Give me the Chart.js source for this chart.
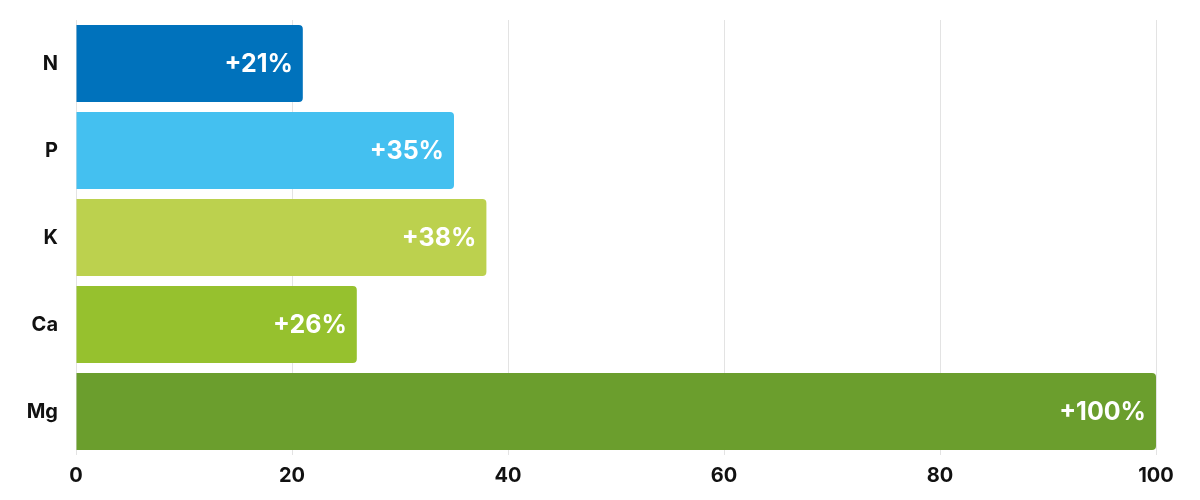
<!DOCTYPE html>
<html>
<head>
<meta charset="utf-8">
<script src="https://cdn.jsdelivr.net/npm/chart.js@4"></script>
<style>
  html, body { margin: 0; padding: 0; background: #fff; }
  #wrap { width: 1200px; height: 500px; }
</style>
</head>
<body>
<div id="wrap"><canvas id="chart" width="1200" height="500"></canvas></div>
<script>
const nutrients = ['N', 'P', 'K', 'Ca', 'Mg'];
const increase = [21, 35, 38, 26, 100];
const barColors = ['#0072bc', '#44c0f0', '#bcd14e', '#96c12e', '#6b9e2d'];
const xTicks = [0, 20, 40, 60, 80, 100];

const fontFamily = "Inter, 'Open Sans', sans-serif";

// white labels inside the end of each bar
const barLabels = {
    id: 'barLabels',
    afterDatasetsDraw: function (chart) {
        const ctx = chart.ctx;
        const meta = chart.getDatasetMeta(0);
        ctx.save();
        ctx.fillStyle = '#ffffff';
        ctx.font = 'bold 25px ' + fontFamily;
        ctx.textAlign = 'right';
        ctx.textBaseline = 'middle';
        meta.data.forEach(function (bar, i) {
            ctx.fillText('+' + increase[i] + '%', bar.x - 10, bar.y + 1);
        });
        ctx.restore();
    }
};

new Chart(document.getElementById('chart'), {
    type: 'bar',
    data: {
        labels: nutrients,
        datasets: [{
            data: increase,
            backgroundColor: barColors,
            borderRadius: 4,
            borderSkipped: 'start',
            categoryPercentage: 0.885,
            barPercentage: 1
        }]
    },
    options: {
        indexAxis: 'y',
        responsive: false,
        animation: false,
        layout: { padding: { top: 20, right: 44, bottom: 0, left: 0 } },
        plugins: { legend: { display: false }, tooltip: { enabled: false } },
        scales: {
            x: {
                min: 0,
                max: 100,
                afterBuildTicks: function (axis) {
                    axis.ticks = xTicks.map(function (v) { return { value: v }; });
                },
                afterFit: function (axis) { axis.height = 45; },
                grid: { color: '#e3e3e3', drawTicks: false },
                border: { display: false },
                ticks: { color: '#111', padding: 9, font: { family: fontFamily, size: 20, weight: 'bold' } }
            },
            y: {
                afterFit: function (axis) {
                    axis.width = 76;
                    axis.paddingTop = 0;
                    axis.paddingBottom = 0;
                },
                grid: { display: false },
                border: { display: false },
                ticks: { color: '#111', padding: 10, font: { family: fontFamily, size: 20, weight: 'bold' } }
            }
        }
    },
    plugins: [barLabels]
});
</script>
</body>
</html>
